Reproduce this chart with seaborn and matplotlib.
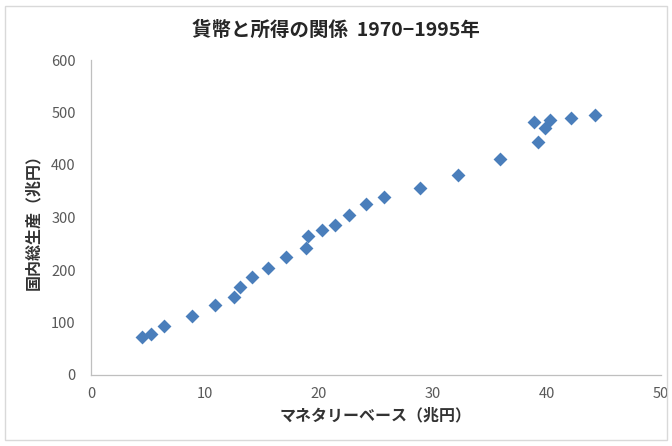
import matplotlib
matplotlib.use("Agg")
import matplotlib.pyplot as plt
import seaborn as sns
import pandas as pd
from matplotlib.patches import Rectangle

monetary_base = [4.45, 5.26, 6.4, 8.83, 10.9, 12.5, 13.1, 14.1, 15.5, 17.1, 18.9, 19.0,
                 20.3, 21.4, 22.6, 24.1, 25.7, 28.9, 32.2, 35.9, 38.9, 39.2, 39.8, 40.3,
                 42.1, 44.2]
gdp = [73, 79, 93, 113, 134, 149, 168, 187, 204, 224, 241, 264,
       276, 285, 304, 326, 340, 356, 381, 411, 481, 443, 470, 485,
       490, 496]
x_ticks = [0, 10, 20, 30, 40, 50]
y_ticks = [0, 100, 200, 300, 400, 500, 600]

df = pd.DataFrame({"mb": monetary_base, "gdp": gdp})

sns.set_theme(style="white")
plt.rcParams['font.family'] = ['Noto Sans CJK JP', 'DejaVu Sans']

fig = plt.figure(figsize=(6.72, 4.46), dpi=100)
ax = fig.add_axes([91/672, 71/446, 570/672, 315/446])

sns.scatterplot(data=df, x="mb", y="gdp", marker="D", s=50, color="#4A7EBB",
                edgecolor="#4A7EBB", linewidth=0, ax=ax)

ax.set_xlim(0, 50)
ax.set_ylim(0, 600)
ax.set_xticks(x_ticks)
ax.set_yticks(y_ticks)
ax.tick_params(axis='both', colors="#595959", labelsize=10.5, length=4, width=0.8)
ax.tick_params(axis='x', pad=5)
ax.tick_params(axis='y', pad=7)
for sp in ["top", "right"]:
    ax.spines[sp].set_visible(False)
for sp in ["left", "bottom"]:
    ax.spines[sp].set_color("#BFBFBF")
    ax.spines[sp].set_linewidth(0.9)
ax.tick_params(axis='both', color="#BFBFBF")

ax.set_xlabel("マネタリーベース（兆円）", fontsize=11.5, fontweight="bold", color="#333333", labelpad=4)
ax.set_ylabel("国内総生産（兆円）", fontsize=11.5, fontweight="bold", color="#333333", labelpad=7)
fig.text(0.5, 1 - 30/446, "貨幣と所得の関係  1970−1995年", ha="center", va="center",
         fontsize=14, fontweight="bold", color="#262626")

fig.patches.append(Rectangle((5/672, 6/446), 662/672, 434/446, transform=fig.transFigure,
                             fill=False, edgecolor="#D9D9D9", linewidth=1))

fig.savefig("out.png", dpi=100)
